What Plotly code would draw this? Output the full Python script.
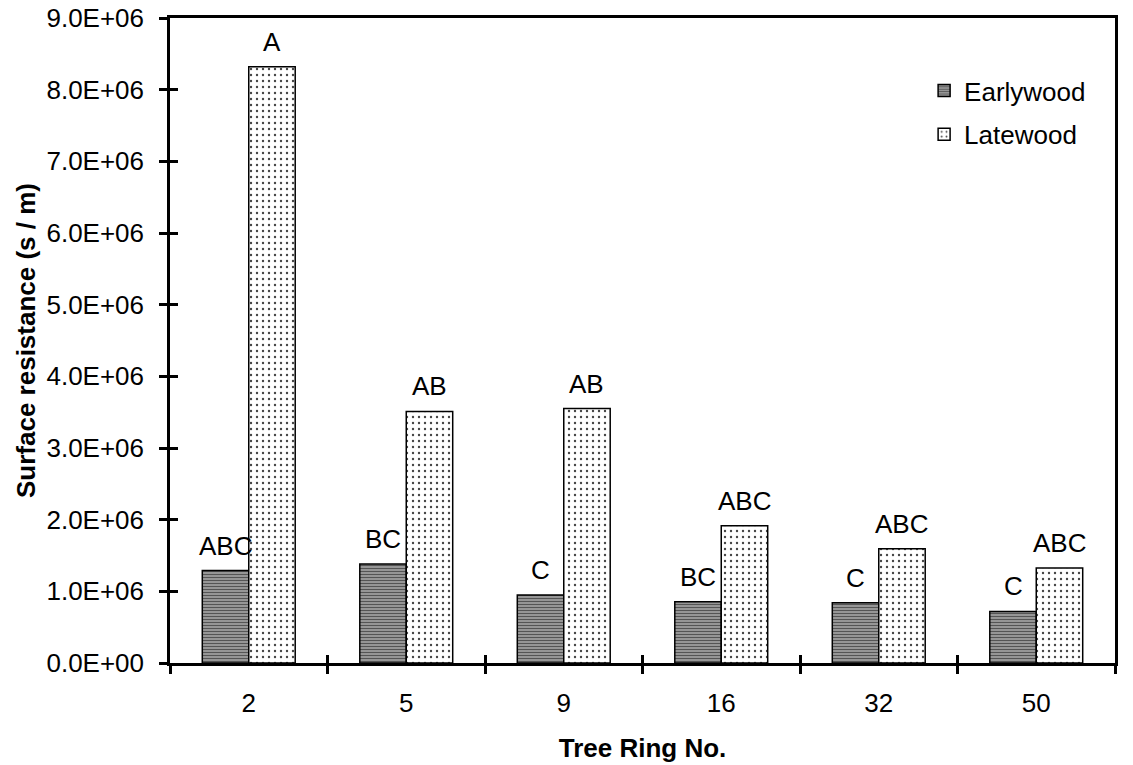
import plotly.graph_objects as go

categories = ["2", "5", "9", "16", "32", "50"]
earlywood = [1.29e6, 1.38e6, 0.95e6, 0.855e6, 0.84e6, 0.72e6]
latewood = [8.32e6, 3.51e6, 3.55e6, 1.915e6, 1.595e6, 1.325e6]
early_labels = ["ABC", "BC", "C", "BC", "C", "C"]
late_labels = ["A", "AB", "AB", "ABC", "ABC", "ABC"]
ytick_vals = [0, 1e6, 2e6, 3e6, 4e6, 5e6, 6e6, 7e6, 8e6, 9e6]
ytick_labels = ["0.0E+00", "1.0E+06", "2.0E+06", "3.0E+06", "4.0E+06",
                "5.0E+06", "6.0E+06", "7.0E+06", "8.0E+06", "9.0E+06"]

FONT = "Liberation Sans, Arial, sans-serif"
FS = 26
BARGAP = 0.41
ML, MR, MT, MB = 170, 18, 18, 102
W, H = 1133, 765
XRANGE = [-0.5, len(categories) - 0.5]

fig = go.Figure()
fig.add_trace(go.Bar(
    x=categories, y=earlywood, name="Earlywood",
    marker=dict(color="#8c8c8c", line=dict(color="black", width=1.5),
                pattern=dict(shape="-", bgcolor="#a4a4a4", fgcolor="#555555",
                             size=3, solidity=0.45, fillmode="replace")),
    legendgroup="e",
))
fig.add_trace(go.Bar(
    x=categories, y=latewood, name="Latewood",
    marker=dict(color="white", line=dict(color="black", width=1.5),
                pattern=dict(shape=".", bgcolor="white", fgcolor="#444444",
                             size=6, solidity=0.12, fillmode="replace")),
    legendgroup="l",
))
# invisible trace to carry the overlay axes (inside half of crossing ticks)
fig.add_trace(go.Scatter(x=categories, y=[0] * len(categories), xaxis="x2", yaxis="y2",
                         mode="markers", marker=dict(opacity=0), showlegend=False,
                         hoverinfo="skip"))

# significance letters above the bars
plot_w = W - ML - MR
bar_w = plot_w / len(categories) * (1 - BARGAP) / 2
annotations = []
for i, (val, lab) in enumerate(zip(earlywood, early_labels)):
    annotations.append(dict(x=i, y=val, xref="x", yref="y", text=lab, showarrow=False,
                            xshift=-bar_w / 2, yshift=8, yanchor="bottom",
                            font=dict(size=FS)))
for i, (val, lab) in enumerate(zip(latewood, late_labels)):
    annotations.append(dict(x=i, y=val, xref="x", yref="y", text=lab, showarrow=False,
                            xshift=bar_w / 2, yshift=8, yanchor="bottom",
                            font=dict(size=FS)))

fig.update_layout(
    width=W, height=H,
    margin=dict(l=ML, r=MR, t=MT, b=MB, autoexpand=False),
    paper_bgcolor="white", plot_bgcolor="white",
    font=dict(family=FONT, color="black", size=FS),
    barmode="group", bargap=BARGAP, bargroupgap=0,
    showlegend=True,
    annotations=annotations,
    legend=dict(x=0.798, y=0.924, xanchor="left", yanchor="top",
                font=dict(size=FS, family=FONT), bgcolor="rgba(0,0,0,0)",
                tracegroupgap=7, traceorder="grouped"),
    xaxis=dict(type="category", range=XRANGE, autorange=False, automargin=False,
               showline=True, linecolor="black", linewidth=2.5,
               mirror=True, ticks="outside", tickson="boundaries", ticklen=8,
               tickwidth=2.5, tickcolor="black", showgrid=False, tickangle=0,
               tickfont=dict(size=FS), ticklabelstandoff=15,
               title=dict(text="<b>Tree Ring No.</b>", font=dict(size=FS), standoff=22)),
    yaxis=dict(range=[0, 9e6], autorange=False, automargin=False,
               tickvals=ytick_vals, ticktext=ytick_labels,
               showline=True, linecolor="black", linewidth=2.5, mirror=True,
               ticks="outside", ticklen=8, tickwidth=2.5, tickcolor="black",
               showgrid=False, zeroline=False, tickfont=dict(size=FS),
               ticklabelstandoff=10, ticklabeloverflow="allow",
               title=dict(text="<b>Surface resistance (s / m)</b>", font=dict(size=FS),
                          standoff=4)),
    xaxis2=dict(type="category", overlaying="x", range=XRANGE, autorange=False,
                automargin=False, showline=False,
                ticks="inside", tickson="boundaries", ticklen=8, tickwidth=2.5,
                tickcolor="black", showticklabels=False, showgrid=False,
                side="bottom"),
    yaxis2=dict(overlaying="y", range=[0, 9e6], autorange=False, automargin=False,
                tickvals=ytick_vals,
                showline=False, ticks="inside", ticklen=8, tickwidth=2.5,
                tickcolor="black", showticklabels=False, showgrid=False,
                zeroline=False, side="left"),
)

fig.write_html("out.html", config={"displayModeBar": False},
               post_script="document.body.style.margin='0';")
